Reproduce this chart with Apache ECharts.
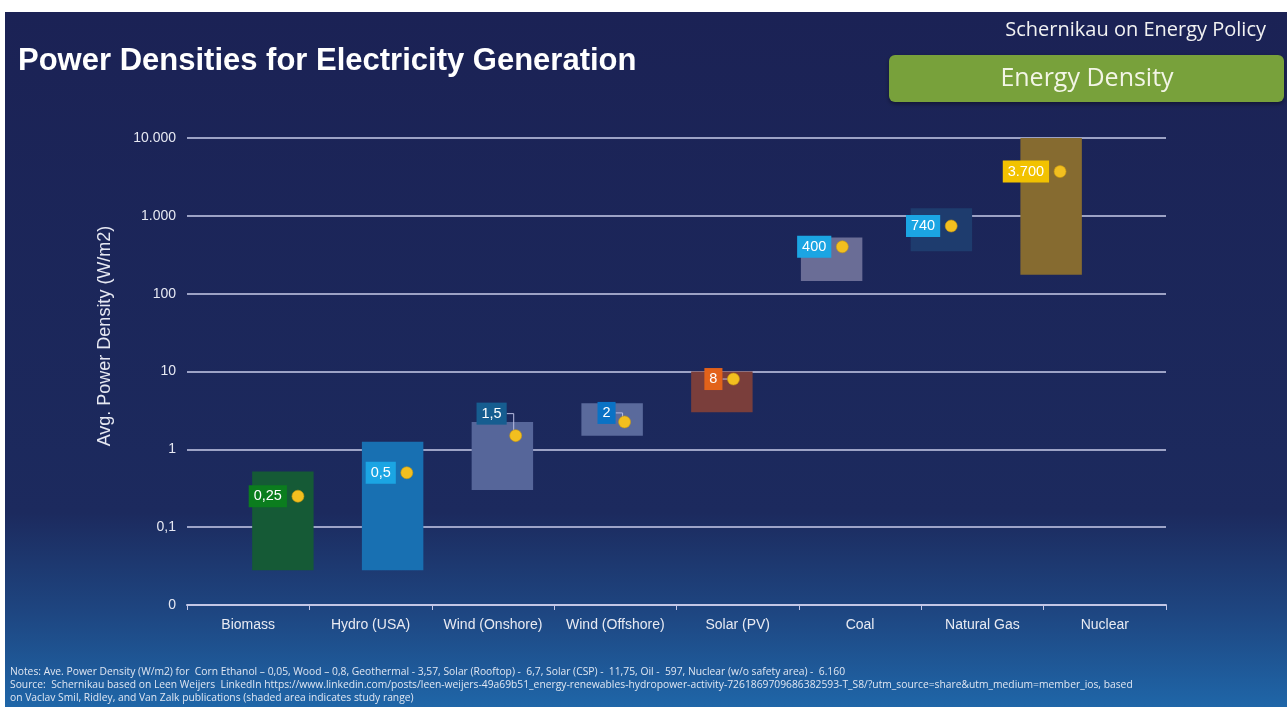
<!DOCTYPE html>
<html>
<head>
<meta charset="utf-8">
<script src="https://cdn.jsdelivr.net/npm/echarts@6/dist/echarts.min.js"></script>
<style>
html,body{margin:0;padding:0;background:#fff;}
#c{width:1287px;height:707px;}
</style>
</head>
<body>
<div id="c"></div>
<script>
// ---- data ----
const categories = ['Biomass', 'Hydro (USA)', 'Wind (Onshore)', 'Wind (Offshore)', 'Solar (PV)', 'Coal', 'Natural Gas', 'Nuclear'];
const rangeLow  = [0.028, 0.028, 0.3, 1.5, 3, 145, 350, 175];
const rangeHigh = [0.52, 1.25, 2.25, 3.9, 10, 525, 1250, 10000];
const avgValues = [0.25, 0.5, 1.5, 2.25, 8, 400, 740, 3700];
const avgLabels = ['0,25', '0,5', '1,5', '2', '8', '400', '740', '3.700'];
const yTicks = [0.01, 0.1, 1, 10, 100, 1000, 10000];
const yTickLabels = ['0', '0,1', '1', '10', '100', '1.000', '10.000'];

// ---- styles ----
const barColors = ['#155a36', '#1870b2', '#56669a', '#5a6a9c', '#7a3e3b', '#6a6d96', '#1e3c6e', '#866b30'];
const labelBg   = ['#0b7d1e', '#1ba5e3', '#165d90', '#0a72c5', '#e2621a', '#1ba5e3', '#1ba5e3', '#f2c200'];
const labelLift = [0, 0, 22, 9, 0, 0, 0, 0];
const hasLeader = [false, false, true, true, true, false, false, false];
const FONT = '"Liberation Sans", Arial, sans-serif';

const chart = echarts.init(document.getElementById('c'), null, {renderer: 'canvas'});

function tickLabel(v) {
  const lv = Math.log10(v);
  const idx = yTicks.findIndex(t => Math.abs(Math.log10(t) - lv) < 1e-6);
  return idx >= 0 ? yTickLabels[idx] : '';
}

const notes1 = 'Notes: Ave. Power Density (W/m2) for  Corn Ethanol \u2013 0,05, Wood \u2013 0,8, Geothermal - 3,57, Solar (Rooftop) -  6,7, Solar (CSP) -  11,75, Oil -  597, Nuclear (w/o safety area) -  6.160';
const notes2 = 'Source:  Schernikau based on Leen Weijers  LinkedIn https://www.linkedin.com/posts/leen-weijers-49a69b51_energy-renewables-hydropower-activity-7261869709686382593-T_S8/?utm_source=share&utm_medium=member_ios, based';
const notes3 = 'on Vaclav Smil, Ridley, and Van Zalk publications (shaded area indicates study range)';
const NOTEFONT = '10.3px "Open Sans", sans-serif';

const option = {
  backgroundColor: '#ffffff',
  animation: false,
  graphic: [
    {type: 'rect', z: -100, shape: {x: 5, y: 12, width: 1282, height: 695},
     style: {fill: new echarts.graphic.LinearGradient(0, 0, 0, 1, [
       {offset: 0, color: '#1b2255'},
       {offset: 0.72, color: '#1c2a5e'},
       {offset: 0.86, color: '#1e4580'},
       {offset: 1, color: '#1f66a8'}
     ])}},
    {type: 'text', left: 18, top: 46, style: {text: 'Power Densities for Electricity Generation', fill: '#ffffff', font: 'bold 31px ' + FONT}},
    {type: 'text', right: 21, top: 20, style: {text: 'Schernikau on Energy Policy', fill: '#f2f2f2', font: '20px "Open Sans", sans-serif'}},
    {type: 'rect', shape: {x: 889, y: 55, width: 395, height: 47, r: 6},
     style: {fill: '#78a13b', shadowBlur: 4, shadowColor: 'rgba(0,0,0,0.4)', shadowOffsetY: 2}},
    {type: 'text', x: 1087, y: 79, style: {text: 'Energy Density', fill: '#f3f5e6', font: '25px "Open Sans", sans-serif', align: 'center', verticalAlign: 'middle'}},
    {type: 'text', x: 105, y: 336, rotation: Math.PI / 2,
     style: {text: 'Avg. Power Density (W/m2)', fill: '#e6e8f2', font: '18px ' + FONT, align: 'center', verticalAlign: 'middle'}},
    {type: 'text', left: 10, top: 667, style: {text: notes1, fill: '#dfe6f2', font: NOTEFONT}},
    {type: 'text', left: 10, top: 680, style: {text: notes2, fill: '#dfe6f2', font: NOTEFONT}},
    {type: 'text', left: 10, top: 693, style: {text: notes3, fill: '#dfe6f2', font: NOTEFONT}}
  ],
  grid: [
    {left: 187, right: 121, top: 138, bottom: 102},
    {left: 228, right: 181, top: 138, bottom: 102},
    {left: 243.5, right: 172.5, top: 138, bottom: 102}
  ],
  xAxis: [
    {type: 'category', gridIndex: 0, data: categories, boundaryGap: true,
     axisLine: {lineStyle: {color: '#c3c7e6', width: 2}},
     axisTick: {show: true, length: 5, lineStyle: {color: '#c3c7e6'}},
     axisLabel: {color: '#e8eaf2', fontSize: 14, fontFamily: FONT, margin: 13, interval: 0},
     splitLine: {show: false}},
    {type: 'category', gridIndex: 1, data: categories, show: false},
    {type: 'category', gridIndex: 2, data: categories, show: false}
  ],
  yAxis: [
    {type: 'log', gridIndex: 0, min: 0.01, max: 10000, logBase: 10, splitNumber: 6,
     axisLine: {show: false}, axisTick: {show: false},
     axisLabel: {color: '#e6e8f2', fontSize: 14, fontFamily: FONT, margin: 11, formatter: tickLabel},
     splitLine: {show: true, lineStyle: {color: '#c9cdea', width: 1.5}}},
    {type: 'log', gridIndex: 1, min: 0.01, max: 10000, logBase: 10, show: false, splitLine: {show: false}},
    {type: 'log', gridIndex: 2, min: 0.01, max: 10000, logBase: 10, show: false, splitLine: {show: false}}
  ],
  series: [
    {
      type: 'custom', xAxisIndex: 1, yAxisIndex: 1, z: 3,
      data: categories.map((c, i) => [i, rangeLow[i], rangeHigh[i]]),
      renderItem: function (params, api) {
        const i = api.value(0);
        const top = api.coord([i, api.value(2)]);
        const bot = api.coord([i, api.value(1)]);
        const w = api.size([1, 1])[0] * 0.56;
        return {type: 'rect', shape: {x: top[0] - w / 2, y: top[1], width: w, height: bot[1] - top[1]},
                style: {fill: barColors[i]}};
      }
    },
    {
      type: 'custom', xAxisIndex: 2, yAxisIndex: 2, z: 5,
      data: categories.map((c, i) => [i, avgValues[i]]),
      renderItem: function (params, api) {
        const i = api.value(0);
        const p = api.coord([i, api.value(1)]);
        const cx = p[0], cy = p[1];
        const lift = labelLift[i];
        const ly = cy - lift;
        const boxRight = lift ? cx - 9 : cx - 11;
        const children = [];
        if (hasLeader[i]) {
          const pts = lift ? [[boxRight, ly], [cx - 2, ly], [cx - 2, cy - 5]] : [[boxRight, cy], [cx - 5, cy]];
          children.push({type: 'polyline', shape: {points: pts}, style: {stroke: '#b9bde2', lineWidth: 1, fill: null}});
        }
        children.push({type: 'text', style: {text: avgLabels[i], x: boxRight, y: ly, align: 'right', verticalAlign: 'middle',
          fill: '#ffffff', font: '14.5px ' + FONT, backgroundColor: labelBg[i], padding: [4, 5, 3, 5]}});
        children.push({type: 'circle', shape: {cx: cx, cy: cy, r: 6}, style: {fill: '#f2bf1f', stroke: '#c9980f', lineWidth: 0.6}});
        return {type: 'group', children: children};
      }
    }
  ]
};
chart.setOption(option);
</script>
</body>
</html>
